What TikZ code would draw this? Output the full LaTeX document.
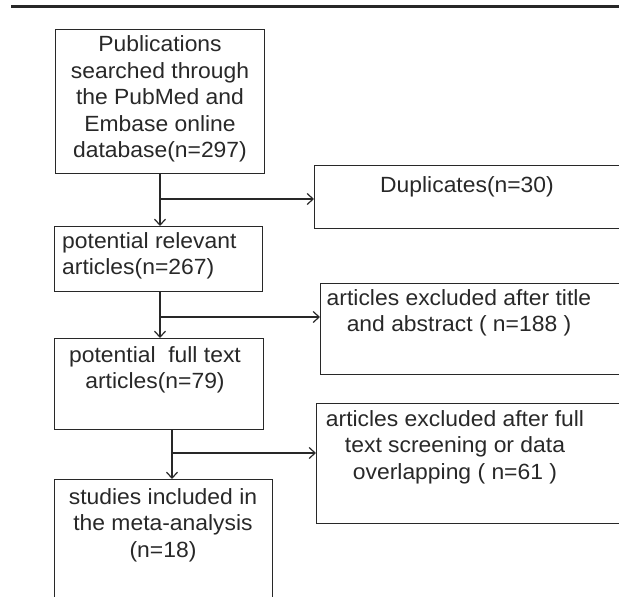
\documentclass[tikz,border=0pt]{standalone}
\usepackage{fontspec}
\setmainfont{Liberation Sans}[FakeStretch=1.04]
\usetikzlibrary{arrows.meta}
\definecolor{ink}{RGB}{40,40,40}
\tikzset{
  box/.style={draw=ink, line width=1.3pt, rectangle, inner sep=0pt, anchor=north west},
  txt/.style={text=ink, inner sep=0pt, font=\fontsize{22}{26.5}\selectfont},
  conn/.style={draw=ink, line width=1.3pt},
  arr/.style={conn, -{Straight Barb[length=6pt,width=11pt,line width=1.2pt]}}
}
\begin{document}
\begin{tikzpicture}[x=1pt,y=-1pt]
\useasboundingbox (0,0) rectangle (619,597);
\clip (0,0) rectangle (619,597);
% top rule
\coordinate (r1) at (11,6.5);
\coordinate (r2) at (625,6.5);
\draw[draw=ink, line width=2.6pt] (r1) -- (r2);
% boxes
\node[box, minimum width=209, minimum height=144] (b1) at (55,29) {};
\node[box, minimum width=208, minimum height=65] (b2) at (54,226) {};
\node[box, minimum width=209, minimum height=91] (b3) at (54,338) {};
\node[box, minimum width=218, minimum height=140] (b5) at (54,479) {};
\node[box, minimum width=320, minimum height=63] (dup) at (314,165) {};
\node[box, minimum width=320, minimum height=91] (ttl) at (320,283) {};
\node[box, minimum width=320, minimum height=120] (ful) at (316,403) {};
% texts
\node[txt, align=center] (t1) at (160,99) {Publications\\searched through\\the PubMed and\\Embase online\\database(n=297)};
\node[txt, align=left, anchor=west] (t2) at (62,256) {potential relevant\\articles(n=267)};
\node[txt, align=center] (t3) at (155,370) {potential\ \ full text\\articles(n=79)};
\node[txt, align=center] (t5) at (163,525) {studies included in\\the meta-analysis\\(n=18)};
\node[txt] (tdup) at (467,187) {Duplicates(n=30)};
\node[txt, align=center] (tttl) at (459,313) {articles excluded after title\\and abstract ( n=188 )};
\node[txt, align=center] (tful) at (455,447) {articles excluded after full\\text screening or data\\overlapping ( n=61 )};
% connectors
\coordinate (s1) at (160,173);
\coordinate (j1) at (160,199);
\coordinate (s2) at (160,291);
\coordinate (j2) at (160,317);
\coordinate (s3) at (172,429);
\coordinate (j3) at (172,453);
\draw[arr] (s1) -- (s1 |- b2.north);
\draw[arr] (j1) -- (j1 -| dup.west);
\draw[arr] (s2) -- (s2 |- b3.north);
\draw[arr] (j2) -- (j2 -| ttl.west);
\draw[arr] (s3) -- (s3 |- b5.north);
\draw[arr] (j3) -- (j3 -| ful.west);
\end{tikzpicture}
\end{document}
